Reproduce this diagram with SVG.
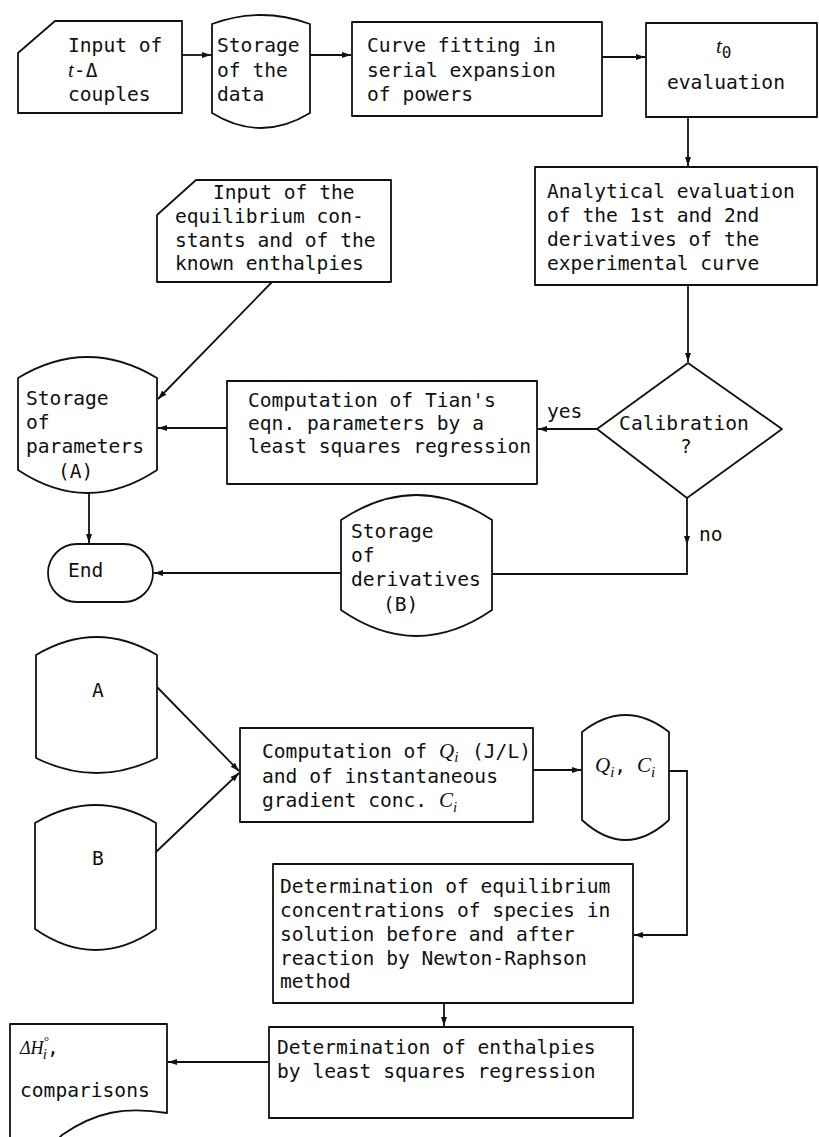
<svg xmlns="http://www.w3.org/2000/svg" width="819" height="1137" viewBox="0 0 819 1137">
<style>
.s{fill:#fff;stroke:#111;stroke-width:1.8;stroke-linejoin:round}
.c{fill:none;stroke:#111;stroke-width:1.8}
text{font-family:"DejaVu Sans Mono","Liberation Mono",monospace;font-size:19.6px;fill:#111}
.m{font-family:"Liberation Serif","DejaVu Serif",serif;font-style:italic;font-size:21px}
.sub{font-size:15px}
.mid{text-anchor:middle}
</style>
<defs>
<marker id="ar" markerWidth="10" markerHeight="8" refX="9" refY="4" orient="auto" markerUnits="userSpaceOnUse">
<path d="M0,1 L9,4 L0,7 Z" fill="#111"/>
</marker>
</defs>
<rect width="819" height="1137" fill="#fff"/>

<g id="connectors">
<line class="c" x1="182" y1="55" x2="211" y2="55" marker-end="url(#ar)"/>
<line class="c" x1="310" y1="55" x2="351" y2="55" marker-end="url(#ar)"/>
<line class="c" x1="602" y1="57" x2="645" y2="57" marker-end="url(#ar)"/>
<line class="c" x1="688" y1="117" x2="688" y2="166" marker-end="url(#ar)"/>
<line class="c" x1="688" y1="285" x2="688" y2="362" marker-end="url(#ar)"/>
<line class="c" x1="597" y1="429" x2="538" y2="429" marker-end="url(#ar)"/>
<line class="c" x1="227" y1="428" x2="158" y2="428" marker-end="url(#ar)"/>
<line class="c" x1="272" y1="282" x2="158" y2="399" marker-end="url(#ar)"/>
<line class="c" x1="89" y1="493" x2="89" y2="543" marker-end="url(#ar)"/>
<line class="c" x1="687" y1="498" x2="687" y2="545" marker-end="url(#ar)"/>
<path class="c" d="M687,545 V574 H492"/>
<line class="c" x1="341" y1="573" x2="154" y2="573" marker-end="url(#ar)"/>
<line class="c" x1="157" y1="687" x2="239" y2="771" marker-end="url(#ar)"/>
<line class="c" x1="156" y1="852" x2="239" y2="773" marker-end="url(#ar)"/>
<line class="c" x1="533" y1="770" x2="581" y2="770" marker-end="url(#ar)"/>
<path class="c" d="M669,771 H687 V935 H634" marker-end="url(#ar)"/>
<line class="c" x1="444" y1="1003" x2="444" y2="1026" marker-end="url(#ar)"/>
<line class="c" x1="269" y1="1062" x2="168" y2="1062" marker-end="url(#ar)"/>
</g>

<g id="input-t-delta">
<path class="s" d="M55,21 H182 V113 H18 V53 Z"/>
<text x="68" y="52">Input of</text>
<text x="68" y="77"><tspan class="m">t</tspan><tspan>-Δ</tspan></text>
<text x="68" y="101">couples</text>
</g>

<g id="storage-data">
<path class="s" d="M212,24 Q261,6 310,24 V113 Q261,143 212,113 Z"/>
<text x="217" y="52">Storage</text>
<text x="217" y="77">of the</text>
<text x="217" y="101">data</text>
</g>

<g id="curve-fitting">
<rect class="s" x="352" y="22" width="250" height="94"/>
<text x="367" y="52">Curve fitting in</text>
<text x="367" y="77">serial expansion</text>
<text x="367" y="101">of powers</text>
</g>

<g id="t0-evaluation">
<rect class="s" x="646" y="23" width="171" height="94"/>
<text x="716" y="53"><tspan class="m">t</tspan><tspan dy="5" style="font-size:16px">0</tspan></text>
<text x="667" y="89">evaluation</text>
</g>

<g id="analytical">
<rect class="s" x="535" y="167" width="282" height="118"/>
<text x="547" y="198">Analytical evaluation</text>
<text x="547" y="222">of the 1st and 2nd</text>
<text x="547" y="246">derivatives of the</text>
<text x="547" y="270">experimental curve</text>
</g>

<g id="input-equilibrium">
<path class="s" d="M196,180 H391 V282 H157 V215 Z"/>
<text x="213" y="199">Input of the</text>
<text x="175" y="223">equilibrium con-</text>
<text x="175" y="247">stants and of the</text>
<text x="175" y="270">known enthalpies</text>
</g>

<g id="storage-parameters">
<path class="s" d="M18,378 Q87.5,336 157,378 V470 Q87.5,516 18,470 Z"/>
<text x="26" y="405">Storage</text>
<text x="26" y="429">of</text>
<text x="26" y="453">parameters</text>
<text x="58" y="478">(A)</text>
</g>

<g id="tian-computation">
<rect class="s" x="227" y="381" width="310" height="103"/>
<text x="248" y="407">Computation of Tian's</text>
<text x="248" y="430">eqn. parameters by a</text>
<text x="248" y="453">least squares regression</text>
</g>

<g id="calibration">
<path class="s" d="M597,429 L688,363 L782,429 L687,498 Z"/>
<text x="684" y="430" class="mid">Calibration</text>
<text x="686" y="453" class="mid">?</text>
<text x="547" y="418">yes</text>
<text x="699" y="541">no</text>
</g>

<g id="end">
<rect class="s" x="48" y="544" width="105" height="58" rx="29" ry="29"/>
<text x="68" y="577">End</text>
</g>

<g id="storage-derivatives">
<path class="s" d="M341,520 Q416.5,470 492,520 V610 Q416.5,662 341,610 Z"/>
<text x="351" y="538">Storage</text>
<text x="351" y="562">of</text>
<text x="351" y="586">derivatives</text>
<text x="383" y="611">(B)</text>
</g>

<g id="store-A">
<path class="s" d="M36,655 Q96.5,619 157,655 V758 Q96.5,788 36,758 Z"/>
<text x="98" y="697" class="mid">A</text>
</g>

<g id="store-B">
<path class="s" d="M35,823 Q95.5,787 156,823 V929 Q95.5,971 35,929 Z"/>
<text x="98" y="865" class="mid">B</text>
</g>

<g id="computation-qi">
<rect class="s" x="240" y="728" width="293" height="94"/>
<text x="262" y="758">Computation of <tspan class="m">Q</tspan><tspan class="m sub" dy="4">i</tspan><tspan dy="-4" x="472">(J/L)</tspan></text>
<text x="262" y="783">and of instantaneous</text>
<text x="262" y="807">gradient conc. <tspan class="m">C</tspan><tspan class="m sub" dy="5">i</tspan></text>
</g>

<g id="store-qi-ci">
<path class="s" d="M582,732 Q625.5,698 669,732 V820 Q625.5,860 582,820 Z"/>
<text x="595" y="772"><tspan class="m">Q</tspan><tspan class="m sub" dy="5">i</tspan><tspan dy="-5">,</tspan><tspan class="m" x="637">C</tspan><tspan class="m sub" dy="5">i</tspan></text>
</g>

<g id="equilibrium-determination">
<rect class="s" x="273" y="864" width="360" height="139"/>
<text x="280" y="893">Determination of equilibrium</text>
<text x="280" y="917">concentrations of species in</text>
<text x="280" y="941">solution before and after</text>
<text x="280" y="965">reaction by Newton-Raphson</text>
<text x="280" y="988">method</text>
</g>

<g id="enthalpy-determination">
<rect class="s" x="269" y="1027" width="364" height="91"/>
<text x="277" y="1054">Determination of enthalpies</text>
<text x="277" y="1078">by least squares regression</text>
</g>

<g id="results">
<path class="s" d="M10,1024 H167 V1113 C125,1106 95,1112 62,1135 L55,1142 H10 Z"/>
<text x="20" y="1054"><tspan class="m" style="font-size:18px">ΔH</tspan><tspan class="m" style="font-size:13px" dy="-9">°</tspan><tspan class="m sub" dx="-6" dy="14">i</tspan><tspan dy="-5">,</tspan></text>
<text x="20" y="1097">comparisons</text>
</g>
</svg>
